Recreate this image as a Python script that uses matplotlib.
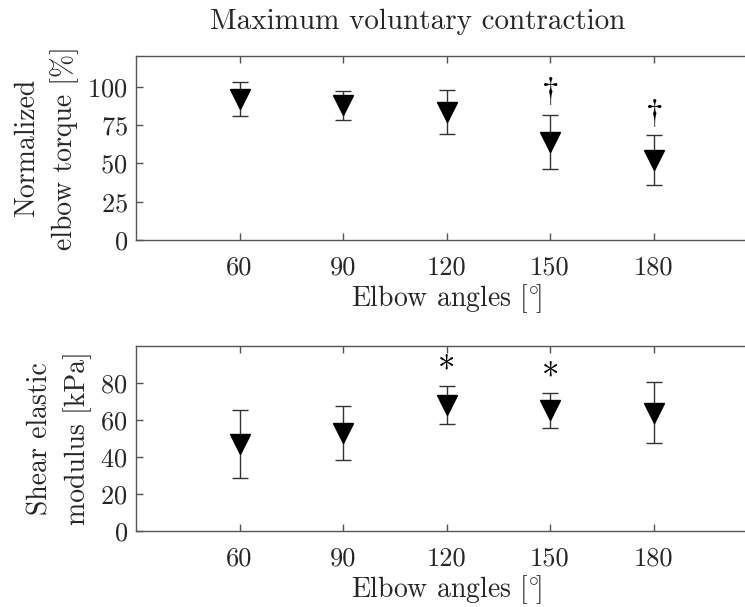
import matplotlib
matplotlib.use('Agg')
import matplotlib.pyplot as plt

plt.rcParams['font.family'] = ['cmr10', 'DejaVu Serif']
plt.rcParams['mathtext.fontset'] = 'cm'
plt.rcParams['axes.formatter.use_mathtext'] = True

angles = [60, 90, 120, 150, 180]
angle_ticks = ['60', '90', '120', '150', '180']

# normalized elbow torque [%] during MVC (mean, sd)
torque_mean = [92, 88, 83.5, 64, 52]
torque_sd = [11, 9.5, 14.3, 17.6, 16.4]
torque_marks = ['', '', '', r'$\dagger$', r'$\dagger$']
torque_mark_y = [0, 0, 0, 97, 83]

# shear elastic modulus [kPa] (mean, sd)
shear_mean = [47, 53, 68, 65.3, 63.9]
shear_sd = [18.3, 14.5, 10.2, 9.4, 16.5]
shear_marks = ['', '', '*', '*', '']
shear_mark_y = [0, 0, 86, 82.5, 0]

W, H = 745, 607
fig = plt.figure(figsize=(W / 100, H / 100), dpi=100)

spine_c = '#555555'
text_c = '#262626'
fs = 19


def panel(rect, means, sds, marks, mark_y, ylim, yticks, ylabel):
    ax = fig.add_axes(rect)
    ax.errorbar(angles, means, yerr=sds, fmt='none', ecolor='#333333',
                elinewidth=1.0, capsize=6, capthick=1.0)
    ax.plot(angles, means, linestyle='none', marker='v', markersize=14,
            color='black')
    for x, m, y in zip(angles, marks, mark_y):
        if m:
            ax.text(x, y, m, ha='center', va='center', fontsize=fs + 6,
                    color='black')
    ax.set_xlim(30, 210)
    ax.set_ylim(*ylim)
    ax.set_xticks(angles)
    ax.set_xticklabels(angle_ticks)
    ax.set_yticks(yticks)
    ax.tick_params(direction='in', top=True, right=True, length=5,
                   width=1, color=spine_c, labelsize=fs, labelcolor=text_c)
    ax.tick_params(axis='x', pad=11)
    ax.tick_params(axis='y', pad=6)
    for s in ax.spines.values():
        s.set_color(spine_c)
        s.set_linewidth(1)
    ax.set_xlabel(r'Elbow angles [$^{\circ}\!$]', fontsize=fs + 1,
                  color=text_c, labelpad=2)
    ax.set_ylabel(ylabel, fontsize=fs + 1, color=text_c, labelpad=6,
                  linespacing=1.45)
    return ax


left = 136 / W
width = 621 / W
panel([left, (H - 240) / H, width, 184 / H], torque_mean, torque_sd,
      torque_marks, torque_mark_y, (0, 120), [0, 25, 50, 75, 100],
      'Normalized\nelbow torque [%]')
panel([left, (H - 531) / H, width, 185 / H], shear_mean, shear_sd,
      shear_marks, shear_mark_y, (0, 100), [0, 20, 40, 60, 80],
      'Shear elastic\nmodulus [kPa]')

fig.text(418 / W, 1 - 22 / H, 'Maximum voluntary contraction',
         ha='center', va='center', fontsize=fs + 2, color=text_c)

fig.savefig('out.png', dpi=100)
